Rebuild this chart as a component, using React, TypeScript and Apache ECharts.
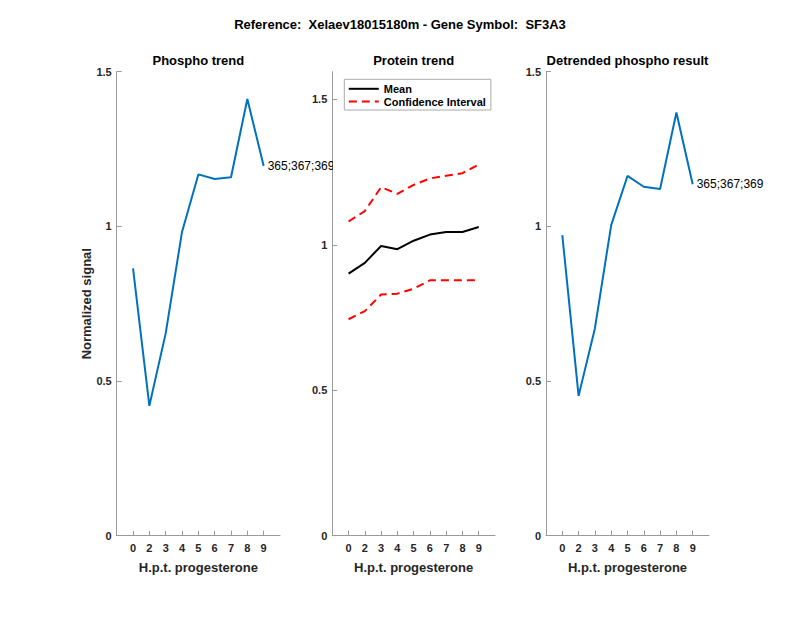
import React, { useEffect, useRef } from "react";
import * as echarts from "echarts";

const hptLabels = ["0", "2", "3", "4", "5", "6", "7", "8", "9"];
const phospho = [0.864, 0.42, 0.654, 0.982, 1.168, 1.153, 1.159, 1.412, 1.195];
const proteinMean = [0.901, 0.938, 0.996, 0.985, 1.014, 1.035, 1.044, 1.044, 1.061];
const proteinUpper = [1.08, 1.116, 1.198, 1.175, 1.206, 1.228, 1.237, 1.246, 1.276];
const proteinLower = [0.744, 0.772, 0.829, 0.832, 0.849, 0.878, 0.878, 0.878, 0.878];
const detrended = [0.972, 0.452, 0.67, 1.004, 1.163, 1.128, 1.121, 1.368, 1.136];
const siteLabel = "365;367;369";
const yTicks = [0, 0.5, 1, 1.5];
const mainTitle = "Reference:  Xelaev18015180m - Gene Symbol:  SF3A3";
const panelTitles = ["Phospho trend", "Protein trend", "Detrended phospho result"];
const xName = "H.p.t. progesterone";
const yName = "Normalized signal";

const FONT = "'Liberation Sans', Arial, Helvetica, sans-serif";
const AX = "#999999";
const TXT = "#262626";

export default function App() {
  const ref = useRef<HTMLDivElement>(null);
  useEffect(() => {
    document.body.style.margin = "0";
    if (!ref.current) return;
    const chart = echarts.init(ref.current, undefined, { renderer: "svg" });
    const pos = hptLabels.map((_, i) => i + 1);
    const toXY = (arr: number[]) => arr.map((v, i) => [i + 1, v]);
    const grids = [
      { left: 116.7, top: 71.7, width: 163.3, height: 464 },
      { left: 332.3, top: 71.7, width: 162.7, height: 464 },
      { left: 546, top: 71.7, width: 163, height: 464 },
    ];
    const xAxes = grids.map((_, gi) => ({
      type: "value",
      gridIndex: gi,
      min: 0,
      max: 10,
      axisLine: { show: true, onZero: false, lineStyle: { color: AX, width: 1 } },
      axisTick: { show: true, inside: true, length: 5, customValues: pos, lineStyle: { color: AX } },
      axisLabel: {
        customValues: pos,
        formatter: (v: number) => hptLabels[Math.round(v) - 1] ?? "",
        fontSize: 11,
        fontWeight: "bold",
        color: TXT,
        fontFamily: FONT,
        margin: 7,
      },
      splitLine: { show: false },
      name: xName,
      nameLocation: "middle",
      nameGap: 25,
      nameTextStyle: { fontSize: 13, fontWeight: "bold", color: TXT, fontFamily: FONT },
    }));
    const yMax = [1.5, 1.595, 1.5];
    const yAxes = grids.map((_, gi) => ({
      type: "value",
      gridIndex: gi,
      min: 0,
      max: yMax[gi],
      axisLine: { show: true, lineStyle: { color: AX, width: 1 } },
      axisTick: { show: true, inside: true, length: 5, customValues: yTicks, lineStyle: { color: AX } },
      axisLabel: {
        customValues: yTicks,
        formatter: (v: number) => String(v),
        fontSize: 11,
        fontWeight: "bold",
        color: TXT,
        fontFamily: FONT,
        margin: 5,
      },
      splitLine: { show: false },
      ...(gi === 0
        ? {
            name: yName,
            nameLocation: "middle",
            nameGap: 22,
            nameTextStyle: { fontSize: 13, fontWeight: "bold", color: TXT, fontFamily: FONT },
          }
        : {}),
    }));
    const endLabel = {
      show: true,
      formatter: siteLabel,
      distance: 4,
      fontSize: 12,
      color: "#000",
      fontFamily: FONT,
    };
    const option = {
      animation: false,
      backgroundColor: "#fff",
      title: [
        {
          text: mainTitle,
          left: 400,
          top: 18,
          textAlign: "center",
          padding: 0,
          textStyle: { fontSize: 13, fontWeight: "bold", color: "#000", fontFamily: FONT },
        },
        ...panelTitles.map((t, i) => ({
          text: t,
          left: grids[i].left + grids[i].width / 2,
          top: 53.5,
          textAlign: "center",
          padding: 0,
          textStyle: { fontSize: 13, fontWeight: "bold", color: "#000", fontFamily: FONT },
        })),
      ],
      grid: grids,
      xAxis: xAxes,
      yAxis: yAxes,
      legend: {
        data: ["Mean", "Confidence Interval"],
        orient: "vertical",
        left: 344.3,
        top: 79.3,
        itemWidth: 30,
        itemHeight: 12,
        itemGap: 1.7,
        padding: [4, 5, 3, 3.5],
        backgroundColor: "#fff",
        borderColor: "#aaaaaa",
        borderWidth: 1,
        itemStyle: { opacity: 0 },
        textStyle: { fontSize: 11, fontWeight: "bold", color: "#000", fontFamily: FONT },
      },
      graphic: [
        {
          type: "rect",
          z: 100,
          shape: { x: 333, y: 150, width: 14, height: 32 },
          style: { fill: "#fff" },
        },
      ],
      series: [
        {
          type: "line",
          xAxisIndex: 0,
          yAxisIndex: 0,
          data: toXY(phospho),
          symbol: "none",
          lineStyle: { color: "#0072BD", width: 2 },
          itemStyle: { color: "#0072BD" },
          endLabel,
        },
        {
          name: "Mean",
          type: "line",
          xAxisIndex: 1,
          yAxisIndex: 1,
          data: toXY(proteinMean),
          symbol: "none",
          lineStyle: { color: "#000", width: 2 },
          itemStyle: { color: "#000" },
        },
        {
          name: "Confidence Interval",
          type: "line",
          xAxisIndex: 1,
          yAxisIndex: 1,
          data: toXY(proteinUpper),
          symbol: "none",
          lineStyle: { color: "#ff0000", width: 2, type: [8, 5] },
          itemStyle: { color: "#ff0000" },
        },
        {
          name: "Confidence Interval",
          type: "line",
          xAxisIndex: 1,
          yAxisIndex: 1,
          data: toXY(proteinLower),
          symbol: "none",
          lineStyle: { color: "#ff0000", width: 2, type: [8, 5] },
          itemStyle: { color: "#ff0000" },
        },
        {
          type: "line",
          xAxisIndex: 2,
          yAxisIndex: 2,
          data: toXY(detrended),
          symbol: "none",
          lineStyle: { color: "#0072BD", width: 2 },
          itemStyle: { color: "#0072BD" },
          endLabel,
        },
      ],
    };
    chart.setOption(option as any);
    return () => chart.dispose();
  }, []);
  return <div ref={ref} style={{ width: 800, height: 618 }} />;
}
